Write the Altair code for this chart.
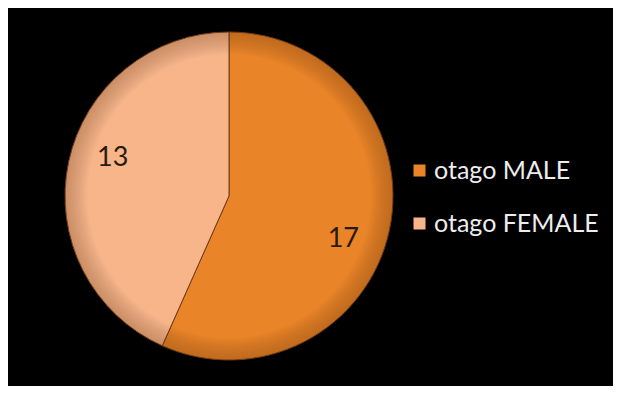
import math
import altair as alt
import pandas as pd

categories = ["otago MALE", "otago FEMALE"]
values = [17, 13]
colors = ["#EA8428", "#F8B58A"]

df = pd.DataFrame({"cat": categories, "value": values, "idx": [0, 1]})

base = alt.Chart(df).transform_window(
    cum="sum(value)", sort=[alt.SortField("idx")], frame=[None, 0]
).transform_joinaggregate(total="sum(value)").transform_calculate(
    start=f"(datum.cum - datum.value) / datum.total * {2 * math.pi}",
    end=f"datum.cum / datum.total * {2 * math.pi}",
    mid=f"(datum.cum - datum.value / 2) / datum.total * {2 * math.pi}",
)

CX, CY, R = 221, 188, 164

pie = base.mark_arc(stroke="#6e3c18", strokeWidth=1).encode(
    theta=alt.Theta("start:Q", scale=None),
    theta2="end:Q",
    radius=alt.value(R),
    x=alt.value(CX),
    y=alt.value(CY),
    color=alt.Color(
        "cat:N",
        scale=alt.Scale(domain=categories, range=colors),
        sort=categories,
        legend=alt.Legend(
            title=None,
            orient="none",
            legendX=399,
            legendY=150,
            padding=0,
            symbolType="square",
            symbolSize=144,
            symbolStrokeWidth=0,
            labelFont="Lato",
            labelFontSize=25,
            labelColor="#EDEDED",
            labelOffset=2,
            rowPadding=27,
            labelLimit=300,
        ),
    ),
)

# soft darkening of the rim
rim = alt.Chart(df).transform_aggregate(total="sum(value)").mark_arc(
    fill=alt.Gradient(
        gradient="radial",
        x1=0.5, y1=0.5, r1=0, x2=0.5, y2=0.5, r2=0.5,
        stops=[
            alt.GradientStop(offset=0, color="rgba(0,0,0,0)"),
            alt.GradientStop(offset=0.86, color="rgba(0,0,0,0)"),
            alt.GradientStop(offset=1, color="rgba(90,40,0,0.28)"),
        ],
    )
).encode(
    theta=alt.Theta("total:Q"),
    radius=alt.value(R),
    x=alt.value(CX),
    y=alt.value(CY),
)

def label(cat, dx, dy):
    return base.transform_filter(alt.datum.cat == cat).mark_text(
        font="Lato", fontSize=27, color="#2a1a0e", dx=dx, dy=dy
    ).encode(
        theta=alt.Theta("mid:Q", scale=None),
        radius=alt.value(122),
        x=alt.value(CX),
        y=alt.value(CY),
        text="value:Q",
    )

chart = alt.layer(
    pie, rim, label("otago MALE", -5, 18), label("otago FEMALE", 3, -13)
).properties(
    width=605,
    height=378,
    background="#000000",
    padding=0,
    autosize=alt.AutoSizeParams(type="none"),
).configure_view(stroke=None)

chart.save("out.html", embed_options={"renderer": "svg", "actions": False})
